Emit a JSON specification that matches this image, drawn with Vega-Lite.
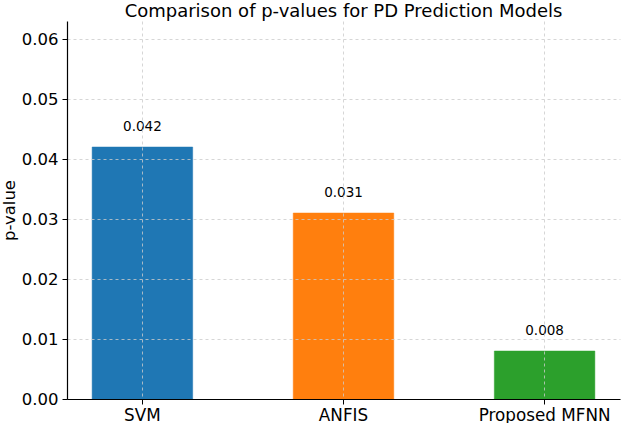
{
  "$schema": "https://vega.github.io/schema/vega-lite/v6.json",
  "autosize": "none",
  "width": 553,
  "height": 378,
  "padding": {"left": 67, "top": 21, "right": 4, "bottom": 24},
  "background": "white",
  "config": {
    "font": "DejaVu Sans",
    "view": {"stroke": null},
    "axis": {
      "labelFont": "DejaVu Sans",
      "titleFont": "DejaVu Sans",
      "labelColor": "#000000",
      "titleColor": "#000000",
      "domainColor": "#000000",
      "tickColor": "#000000",
      "gridColor": "#cccccc",
      "gridDash": [3, 3],
      "gridWidth": 0.8,
      "gridOpacity": 1
    }
  },
  "title": {
    "text": "Comparison of p-values for PD Prediction Models",
    "font": "DejaVu Sans",
    "fontSize": 18,
    "fontWeight": "normal",
    "color": "#000000",
    "anchor": "middle",
    "offset": 0
  },
  "data": {
    "values": [
      {"model": "SVM", "p": 0.042, "label": "0.042"},
      {"model": "ANFIS", "p": 0.031, "label": "0.031"},
      {"model": "Proposed MFNN", "p": 0.008, "label": "0.008"}
    ]
  },
  "encoding": {
    "x": {
      "field": "model",
      "type": "nominal",
      "sort": null,
      "scale": {"paddingInner": 0.5, "paddingOuter": 0.125},
      "axis": {
        "title": null,
        "labelAngle": 0,
        "labelFontSize": 16.8,
        "labelPadding": 3,
        "tickSize": 5,
        "grid": true,
        "zindex": 1,
        "domainWidth": 1.2
      }
    },
    "y": {
      "field": "p",
      "type": "quantitative",
      "scale": {"domain": [0, 0.063], "nice": false},
      "axis": {
        "title": "p-value",
        "titleFontSize": 16.5,
        "titleFontWeight": "normal",
        "titlePadding": 4,
        "labelFontSize": 16.5,
        "labelPadding": 4,
        "tickSize": 5,
        "values": [0, 0.01, 0.02, 0.03, 0.04, 0.05, 0.06],
        "format": ".2f",
        "grid": true,
        "zindex": 1,
        "domainWidth": 1.2
      }
    }
  },
  "layer": [
    {
      "mark": {"type": "bar", "strokeWidth": 0.8, "strokeOpacity": 0.6},
      "encoding": {
        "color": {
          "field": "model",
          "type": "nominal",
          "sort": null,
          "scale": {"range": ["#1f77b4", "#ff7f0e", "#2ca02c"]},
          "legend": null
        },
        "stroke": {
          "field": "model",
          "type": "nominal",
          "sort": null,
          "scale": {"range": ["#1f77b4", "#ff7f0e", "#2ca02c"]},
          "legend": null
        }
      }
    },
    {
      "mark": {"type": "text", "fontSize": 13.5, "dy": -16, "baseline": "alphabetic", "color": "#000000", "font": "DejaVu Sans"},
      "encoding": {"text": {"field": "label"}}
    }
  ]
}
